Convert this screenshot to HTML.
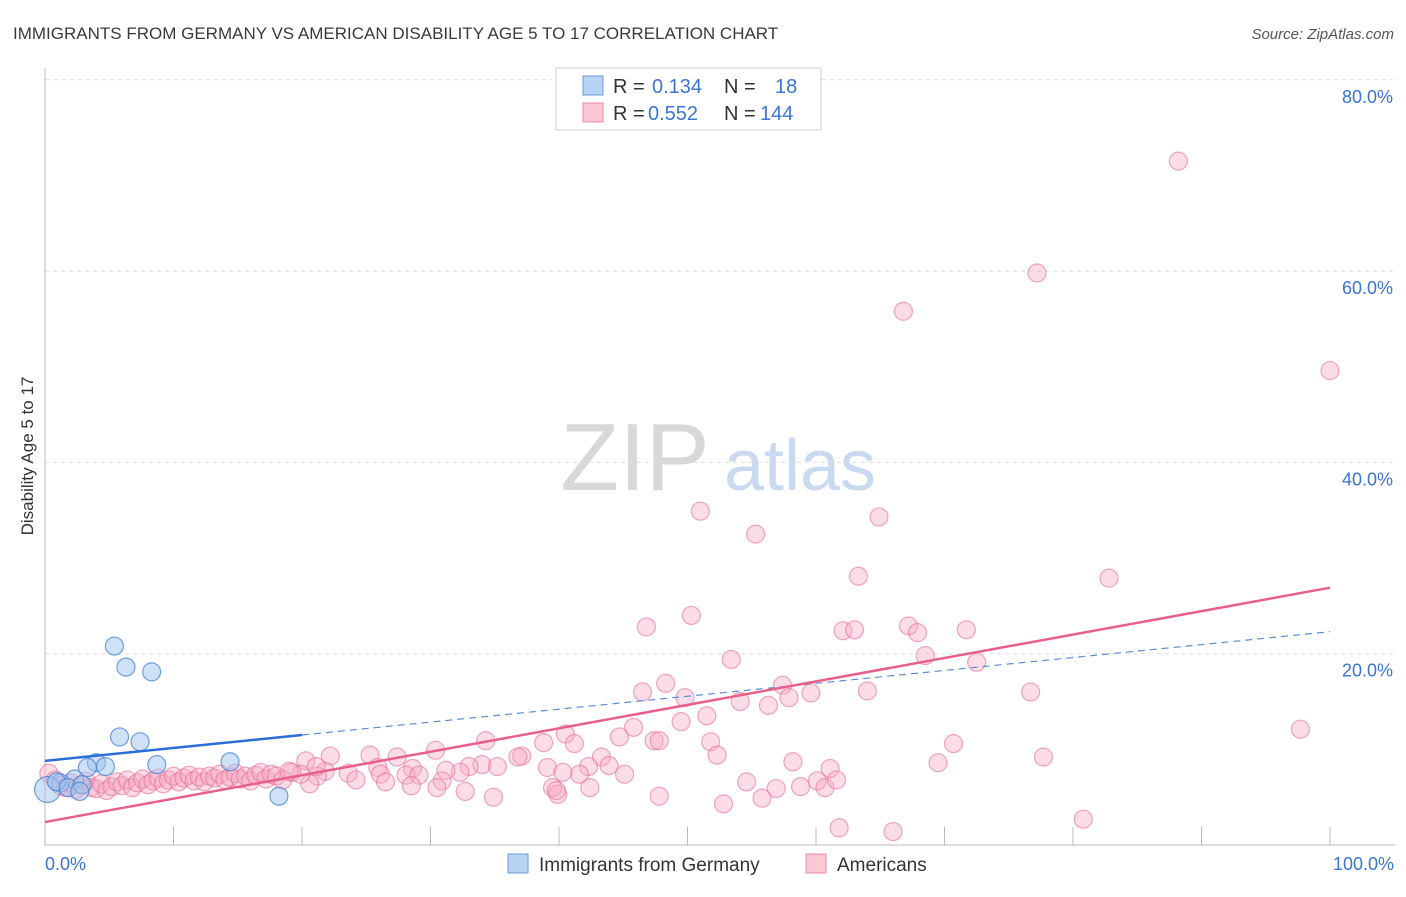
<!DOCTYPE html>
<html><head><meta charset="utf-8">
<style>
body{margin:0;background:#fff;font-family:"Liberation Sans",sans-serif;}
svg text{font-family:"Liberation Sans",sans-serif;}
</style></head>
<body>
<svg id="chart" width="1406" height="892" xmlns="http://www.w3.org/2000/svg">
<text x="13" y="39" font-size="17" fill="#3a3a3a">IMMIGRANTS FROM GERMANY VS AMERICAN DISABILITY AGE 5 TO 17 CORRELATION CHART</text>
<text x="1394" y="39" font-size="15" fill="#555" text-anchor="end" font-style="italic">Source: ZipAtlas.com</text>
<text transform="translate(33,456) rotate(-90)" font-size="17" fill="#333" text-anchor="middle">Disability Age 5 to 17</text>
<g>
<text x="635" y="490" font-size="96" fill="#d8d8d8" text-anchor="middle" font-family="Liberation Serif,serif">ZIP</text>
<text x="800" y="490" font-size="72" fill="#c9daf0" text-anchor="middle">atlas</text>
</g>
<g id="grid"></g>
<g id="axes"></g>
<g id="pink"></g>
<g id="blue"></g>
<g id="lines"></g>
<g>
<rect x="556" y="68" width="265" height="62" fill="#fff" stroke="#ccc"/>
<rect x="583" y="76" width="20" height="19" fill="#b8d4f5" stroke="#6a9bd8"/>
<rect x="583" y="103" width="20" height="19" fill="#fcc8d6" stroke="#e88aa6"/>
<text x="613" y="93" font-size="20" fill="#333">R = </text><text x="652" y="93" font-size="20" fill="#3a75d0">0.134</text>
<text x="724" y="93" font-size="20" fill="#333">N = </text><text x="775" y="93" font-size="20" fill="#3a75d0">18</text>
<text x="613" y="120" font-size="20" fill="#333">R = </text><text x="648" y="120" font-size="20" fill="#3a75d0">0.552</text>
<text x="724" y="120" font-size="20" fill="#333">N = </text><text x="760" y="120" font-size="20" fill="#3a75d0">144</text>
</g>
<g>
<rect x="508" y="854" width="20" height="19" fill="#b8d4f5" stroke="#6a9bd8"/>
<text x="539" y="871" font-size="19" fill="#333">Immigrants from Germany</text>
<rect x="806" y="854" width="20" height="19" fill="#fcc8d6" stroke="#e88aa6"/>
<text x="837" y="871" font-size="19" fill="#333">Americans</text>
</g>
</svg>
<script>
const yTicks=[20,40,60,80];
const yTickLabels=["20.0%","40.0%","60.0%","80.0%"];
const xTicks=[0,10,20,30,40,50,60,70,80,90,100];
const xEndLabels=["0.0%","100.0%"];
const blueX=[5.4,6.3,8.3,5.8,7.4,14.4,8.7,4.0,4.7,3.3,18.2,2.3,1.2,0.2,0.9,1.8,2.9,2.7];
const blueY=[20.8,18.6,18.1,11.3,10.8,8.7,8.4,8.6,8.2,8.1,5.1,6.9,6.5,5.8,6.6,6.0,6.3,5.6];
const blueR=[9,9,9,9,9,9,9,9,9,9,9,9,9,13,9,9,9,9];
const pinkX=[88.2,77.2,66.8,100,51.0,55.3,64.9,63.3,82.8,46.8,50.3,62.1,63.0,67.2,67.9,71.7,53.4,68.5,72.5,46.5,48.3,49.8,57.4,57.9,59.6,64.0,54.1,56.3,76.7,97.7,51.5,49.5,45.8,44.7,47.4,47.8,51.8,52.3,70.7,69.5,77.7,40.5,41.2,38.8,34.3,37.1,36.8,30.4,25.3,27.4,22.2,20.3,43.3,43.9,42.3,39.1,41.6,45.1,39.5,39.9,42.4,39.8,40.3,34.0,35.2,33.0,32.3,31.2,30.9,28.6,28.1,29.1,25.9,26.1,23.6,24.2,21.8,21.2,20.6,19.9,21.1,19.2,47.8,52.8,54.6,56.9,58.2,58.8,60.1,60.7,61.1,61.6,61.8,66.0,80.8,55.8,34.9,32.7,30.5,26.5,28.5,
0.3,0.8,1.2,1.6,2.0,2.4,2.8,3.2,3.6,4.0,4.4,4.8,5.2,5.6,6.0,6.4,6.8,7.2,7.6,8.0,8.4,8.8,9.2,9.6,10.0,10.4,10.8,11.2,11.6,12.0,12.4,12.8,13.2,13.6,14.0,14.4,14.8,15.2,15.6,16.0,16.4,16.8,17.2,17.6,18.0,18.5,19.0];
const pinkY=[71.5,59.8,55.8,49.6,34.9,32.5,34.3,28.1,27.9,22.8,24.0,22.4,22.5,22.9,22.2,22.5,19.4,19.8,19.1,16.0,16.9,15.4,16.7,15.4,15.9,16.1,15.0,14.6,16.0,12.1,13.5,12.9,12.3,11.3,10.9,10.9,10.8,9.4,10.6,8.6,9.2,11.6,10.6,10.7,10.9,9.3,9.2,9.9,9.4,9.2,9.3,8.8,9.2,8.3,8.2,8.1,7.4,7.4,6.0,5.3,6.0,5.7,7.6,8.4,8.2,8.2,7.6,7.8,6.7,8.0,7.3,7.3,8.1,7.4,7.5,6.8,7.7,7.2,6.4,7.4,8.2,7.6,5.1,4.3,6.6,5.9,8.7,6.1,6.7,6.0,8.0,6.8,1.8,1.4,2.7,4.9,5.0,5.6,6.0,6.6,6.2,
7.5,6.8,6.2,6.0,6.5,5.8,6.3,6.7,6.0,5.9,6.4,5.7,6.1,6.6,6.2,6.8,6.0,6.5,6.9,6.3,6.7,7.0,6.4,6.8,7.2,6.6,7.0,7.3,6.7,7.1,6.6,7.2,7.0,7.4,6.8,7.1,7.5,6.9,7.2,6.7,7.3,7.6,6.9,7.4,7.2,6.8,7.7];
const blueLine=[8.8,0.135];  // intercept, slope (% per %)
const blueSolidEnd=20;
const pinkLine=[2.4,0.245];
const NS="http://www.w3.org/2000/svg";
const X0=45,X1=1330,Y0=845,YS=9.565;
const sx=v=>X0+(X1-X0)*v/100;
const sy=v=>Y0-v*YS;
function mk(t,a,p){const e=document.createElementNS(NS,t);for(const k in a)e.setAttribute(k,a[k]);p.appendChild(e);return e;}
const grid=document.getElementById('grid');
yTicks.forEach((t,i)=>{
  const l=mk('line',{x1:X0,x2:1395,y1:sy(t),y2:sy(t),stroke:'#ddd','stroke-dasharray':'4,4'},grid);
  
  
  const tx=mk('text',{x:1393,y:sy(t)+23,'font-size':18,fill:'#3a75d0','text-anchor':'end'},grid);
  tx.textContent=yTickLabels[i];
  
  
});
const axes=document.getElementById('axes');
mk('line',{x1:X0,x2:X0,y1:68,y2:Y0,stroke:'#bbb'},axes);
mk('line',{x1:X0,x2:1395,y1:Y0,y2:Y0,stroke:'#bbb'},axes);
xTicks.forEach(t=>{if(t>0){const l=mk('line',{x1:sx(t),x2:sx(t),y1:827,y2:Y0,stroke:'#bbb'},axes);
  
  }});
[[0,'start',45],[100,'end',1394]].forEach((d,i)=>{const tx=mk('text',{x:d[2],y:870,'font-size':18,fill:'#3a75d0','text-anchor':d[1]},axes);tx.textContent=xEndLabels[i];
  
  });
const pg=document.getElementById('pink');
pinkX.forEach((x,i)=>{const c=mk('circle',{cx:sx(x),cy:sy(pinkY[i]),r:9,fill:'rgba(248,170,195,0.4)',stroke:'rgba(230,110,150,0.6)','stroke-width':1.2},pg);
  
  });
const bg=document.getElementById('blue');
blueX.forEach((x,i)=>{const c=mk('circle',{cx:sx(x),cy:sy(blueY[i]),r:blueR[i],fill:'rgba(160,196,240,0.5)',stroke:'rgba(70,130,210,0.75)','stroke-width':1.2},bg);
  
  });
const lg=document.getElementById('lines');
const bl=x=>blueLine[0]+blueLine[1]*x, pl=x=>pinkLine[0]+pinkLine[1]*x;
let l1=mk('line',{x1:sx(0),y1:sy(bl(0)),x2:sx(blueSolidEnd),y2:sy(bl(blueSolidEnd)),stroke:'#2a6fd6','stroke-width':2.5},lg);


let l2=mk('line',{x1:sx(blueSolidEnd),y1:sy(bl(blueSolidEnd)),x2:sx(100),y2:sy(bl(100)),stroke:'#5b8ed6','stroke-width':1.2,'stroke-dasharray':'7,5'},lg);


let l3=mk('line',{x1:sx(0),y1:sy(pl(0)),x2:sx(100),y2:sy(pl(100)),stroke:'#e8608a','stroke-width':2.5},lg);


</script>
</body></html>
